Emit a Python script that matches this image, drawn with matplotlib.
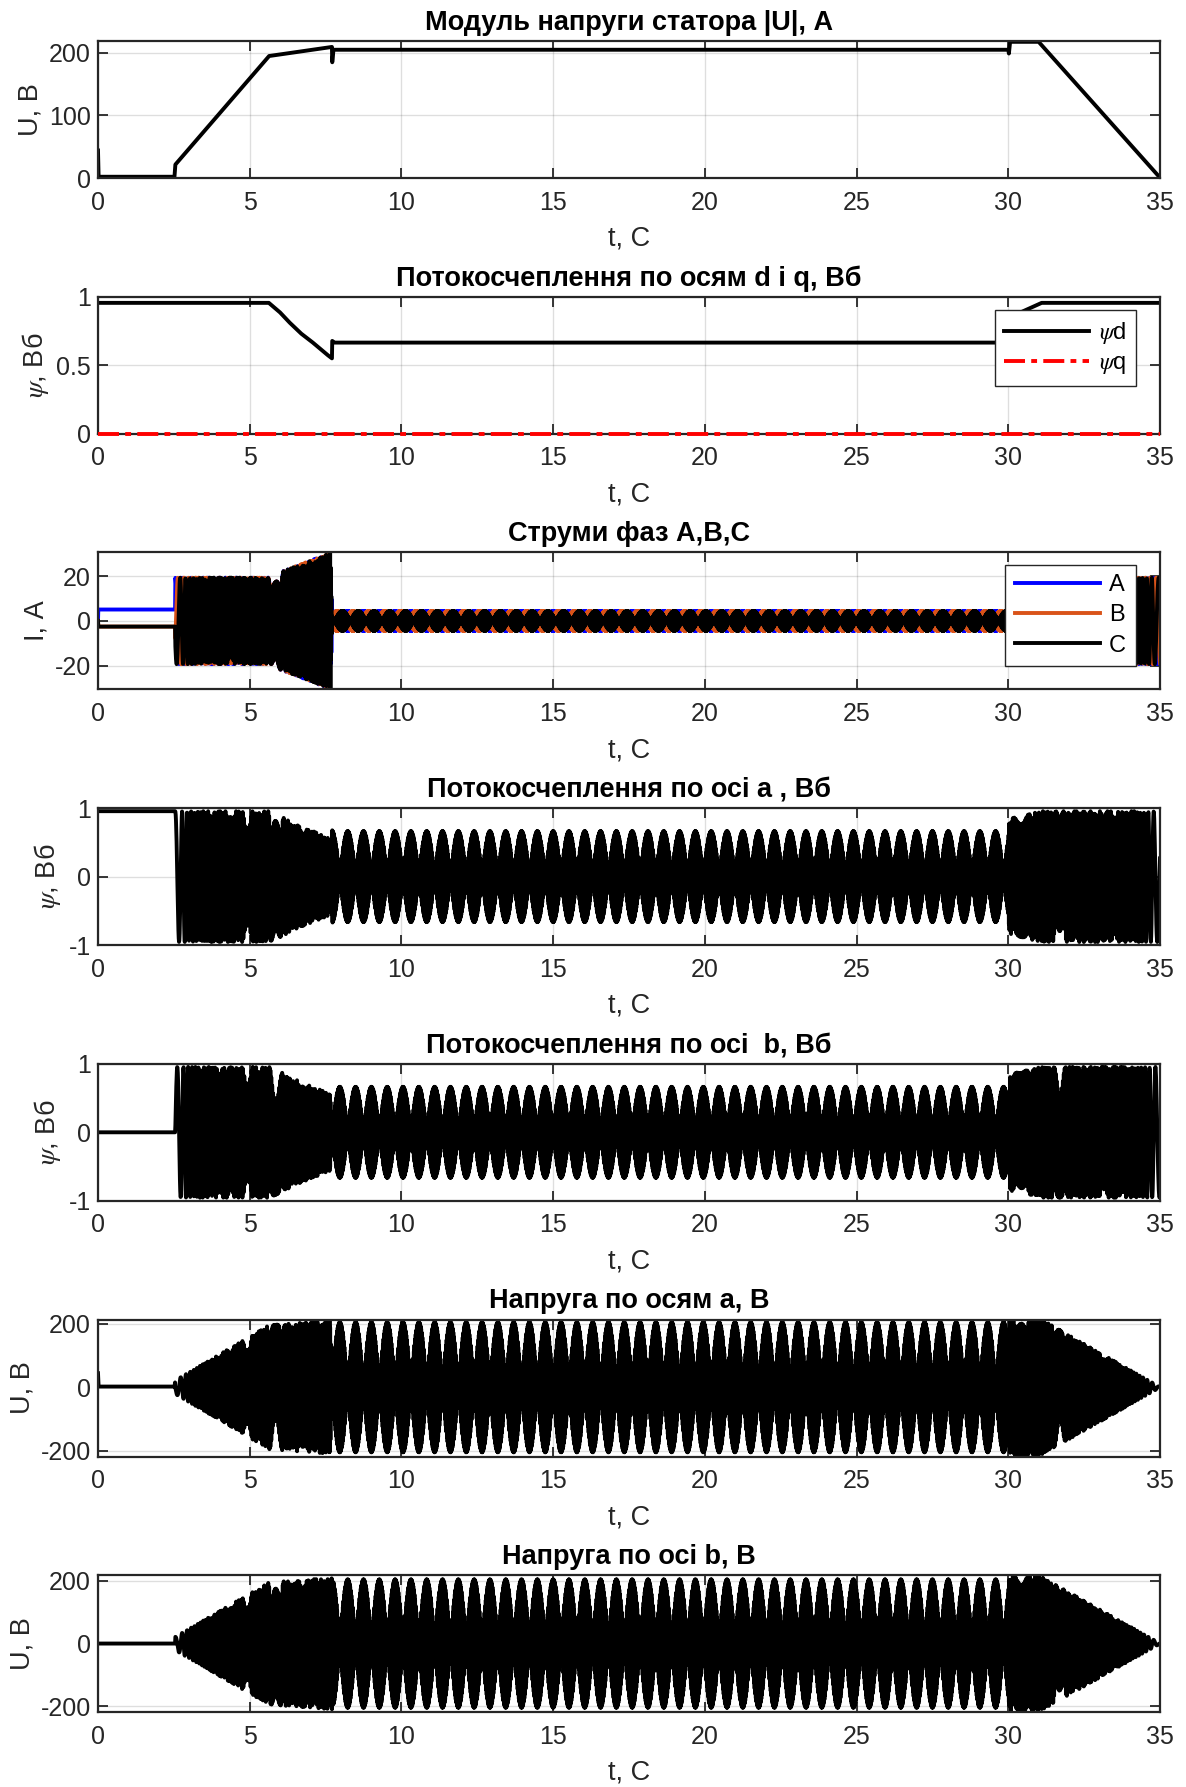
import numpy as np
import matplotlib
matplotlib.use("Agg")
import matplotlib.pyplot as plt
from matplotlib.ticker import FuncFormatter

plt.rcParams['font.family'] = ['Liberation Sans', 'DejaVu Sans']
plt.rcParams['mathtext.fontset'] = 'stix'
plt.rcParams['axes.unicode_minus'] = False

# |U| of the stator voltage, V
t_u = [0, 0.02, 2.52, 2.55, 5.64, 7.71, 7.72, 7.76, 30.0, 30.02, 30.06, 31.0, 34.96, 35.0]
u_mod = [44, 2, 2, 21.5, 195, 209.5, 185, 205, 205, 199, 217.7, 217.7, 2.7, 2.7]

# flux linkage on d axis, Wb (q axis stays at zero)
t_psi = [0, 5.63, 6.0, 6.32, 6.7, 7.08, 7.58, 7.71, 7.72, 7.8, 30.0, 30.05, 31.1, 35.0]
psi_d = [0.955, 0.955, 0.885, 0.81, 0.73, 0.665, 0.572, 0.55, 0.677, 0.665, 0.665, 0.85, 0.955, 0.955]
t_psiq = [0, 35]
psi_q = [0, 0]

# electrical frequency of the stator field, Hz
t_f = [0, 2.54, 2.55, 5.64, 5.85, 7.70, 7.71, 30.0, 30.06, 31.2, 35.0]
f_e = [0, 0, 3.4, 31.5, 33.3, 47.0, 49.04, 49.04, 41.0, 37.9, 2.9]

# phase current amplitude, A
t_i = [0, 0.01, 2.54, 2.55, 5.84, 6.0, 7.66, 7.71, 30.0, 30.02, 35.0]
i_amp = [0, 5.1, 5.1, 19.4, 19.4, 21.8, 30.5, 4.5, 4.5, 19.4, 19.4]

# logged signals, 10 ms step
dt = 0.01
t = np.arange(0, 35 + dt / 2, dt)
f = np.interp(t, t_f, f_e)
theta = 2 * np.pi * np.concatenate(([0], np.cumsum((f[1:] + f[:-1]) / 2 * dt)))

psi_env = np.interp(t, t_psi, psi_d)
u_env = np.interp(t, t_u, u_mod)
i_env = np.interp(t, t_i, i_amp)
u_lead = np.where(t < 2.55, 0, np.pi / 2)

psi_a = psi_env * np.cos(theta)
psi_b = psi_env * np.sin(theta)
u_a = u_env * np.cos(theta + u_lead)
u_b = u_env * np.sin(theta + u_lead)
i_a = i_env * np.cos(theta)
i_b = i_env * np.cos(theta - 2 * np.pi / 3)
i_c = i_env * np.cos(theta + 2 * np.pi / 3)

W, H = 1186, 1787
fig = plt.figure(figsize=(W / 100, H / 100), dpi=100)

tops = [41 + 255.7 * k for k in range(7)]
ax_h = 137
GREY = '#262626'


def make_ax(k):
    return fig.add_axes([98 / W, 1 - (tops[k] + ax_h) / H, (1160 - 98) / W, ax_h / H])


def style(ax, title, ylabel, ylim, yticks):
    ax.set_xlim(0, 35)
    ax.set_ylim(*ylim)
    ax.set_xticks(range(0, 36, 5))
    ax.set_yticks(yticks)
    ax.yaxis.set_major_formatter(FuncFormatter(lambda v, p: f'{v:g}'))
    ax.grid(True, color=GREY, alpha=0.15, lw=1)
    ax.set_axisbelow(True)
    ax.tick_params(direction='in', length=7, width=1.3, top=True, right=True,
                   labelsize=18, colors=GREY)
    ax.tick_params(axis='x', pad=9)
    ax.tick_params(axis='y', pad=5)
    for sp in ax.spines.values():
        sp.set_linewidth(1.6)
        sp.set_color(GREY)
    ax.set_title(title, fontsize=19.5, fontweight='bold', pad=8)
    ax.set_xlabel('t, С', fontsize=19.5, color=GREY, labelpad=8)
    ax.set_ylabel(ylabel, fontsize=19.5, color=GREY, labelpad=4)


def add_legend(ax, anchor, spacing):
    leg = ax.legend(loc='upper right', bbox_to_anchor=anchor, fontsize=17,
                    handlelength=3.6, labelspacing=spacing, borderpad=0.4,
                    handletextpad=0.4, borderaxespad=0, fancybox=False,
                    framealpha=1, edgecolor=GREY)
    leg.get_frame().set_linewidth(1.0)


LW = 2.8

ax = make_ax(0)
ax.plot(t_u, u_mod, color='k', lw=LW)
style(ax, 'Модуль напруги статора |U|, А', 'U, В', (0, 219), [0, 100, 200])

ax = make_ax(1)
ax.plot(t_psi, psi_d, color='k', lw=LW, label=r'$\psi$d')
ax.plot(t_psiq, psi_q, color='#ff0000', lw=LW, ls=(0, (5.4, 1.6, 1.5, 1.6)),
        label=r'$\psi$q', clip_on=False, zorder=5)
style(ax, 'Потокосчеплення по осям d і q, Вб', r'$\psi$, Вб', (0, 1), [0, 0.5, 1])
add_legend(ax, (0.977, 0.90), 0.28)

ax = make_ax(2)
ax.plot(t, i_a, color='#0000ff', lw=LW, label='A')
ax.plot(t, i_b, color='#d95319', lw=LW, label='B')
ax.plot(t, i_c, color='k', lw=LW, label='C')
style(ax, 'Струми фаз А,В,С', 'I, А', (-30.7, 30.7), [-20, 0, 20])
add_legend(ax, (0.977, 0.91), 0.35)

ax = make_ax(3)
ax.plot(t, psi_a, color='k', lw=LW)
style(ax, 'Потокосчеплення по осі a , Вб', r'$\psi$, Вб', (-1, 1), [-1, 0, 1])

ax = make_ax(4)
ax.plot(t, psi_b, color='k', lw=LW)
style(ax, 'Потокосчеплення по осі  b, Вб', r'$\psi$, Вб', (-1, 1), [-1, 0, 1])

ax = make_ax(5)
ax.plot(t, u_a, color='k', lw=LW)
style(ax, 'Напруга по осям a, В', 'U, В', (-218, 213), [-200, 0, 200])

ax = make_ax(6)
ax.plot(t, u_b, color='k', lw=LW)
style(ax, 'Напруга по осі b, В', 'U, В', (-219, 218), [-200, 0, 200])

fig.savefig('out.png', dpi=100)
